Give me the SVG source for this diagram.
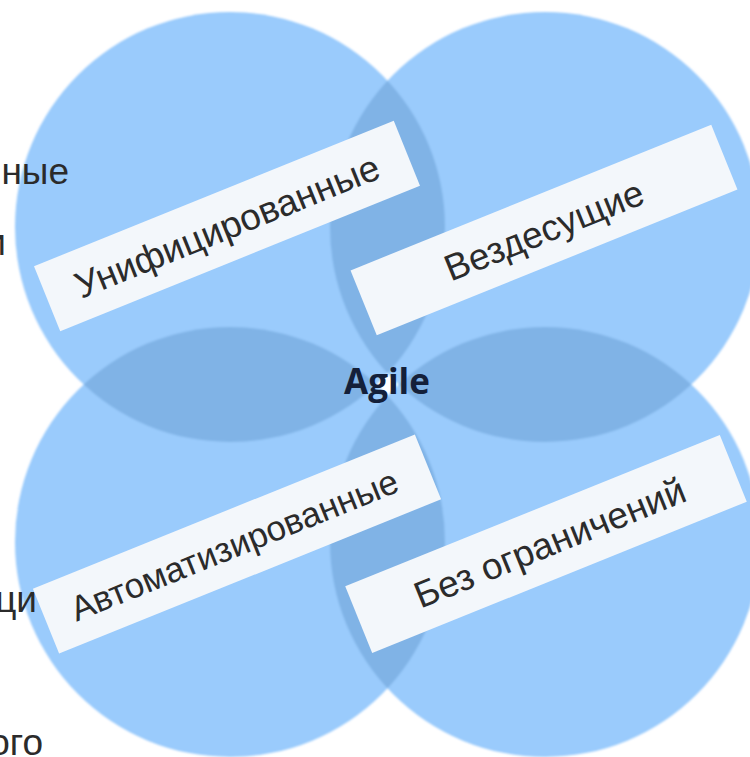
<svg xmlns="http://www.w3.org/2000/svg" width="750" height="757" viewBox="0 0 750 757">
  <defs>
    <style>
      .circ { fill: #9ACBFC; }
      .lens { fill: #80B3E6; }
      .box { fill: #F3F7FB; }
      .lbl { font-family: "Liberation Sans", Arial, sans-serif; font-size: 37px; fill: #2B2B2B; text-anchor: middle; }
      .lbl-s { font-size: 35px; }
      .side { font-family: "Liberation Sans", Arial, sans-serif; font-size: 37px; fill: #2B2B2B; text-anchor: end; }
      .core { font-family: "Open Sans", "Noto Sans", sans-serif; font-weight: bold; font-size: 35px; fill: #14203A; text-anchor: middle; }
    </style>
    <filter id="soft" x="-5%" y="-5%" width="110%" height="110%">
      <feGaussianBlur stdDeviation="1.2"/>
    </filter>
    <clipPath id="cTL"><circle cx="230" cy="227" r="215"/></clipPath>
    <clipPath id="cTR"><circle cx="545" cy="227" r="215"/></clipPath>
    <clipPath id="cBL"><circle cx="230" cy="542" r="215"/></clipPath>
    <clipPath id="cBR"><circle cx="545" cy="542" r="215"/></clipPath>
  </defs>
  <rect width="750" height="757" fill="#FFFFFF"/>

  <g id="circles" filter="url(#soft)">
    <circle class="circ" cx="230" cy="227" r="215"/>
    <circle class="circ" cx="545" cy="227" r="215"/>
    <circle class="circ" cx="230" cy="542" r="215"/>
    <circle class="circ" cx="545" cy="542" r="215"/>
    <circle class="lens" cx="545" cy="227" r="215" clip-path="url(#cTL)"/>
    <circle class="lens" cx="230" cy="542" r="215" clip-path="url(#cTL)"/>
    <circle class="lens" cx="545" cy="542" r="215" clip-path="url(#cTR)"/>
    <circle class="lens" cx="545" cy="542" r="215" clip-path="url(#cBL)"/>
  </g>

  <g id="connectors"></g>

  <g id="center">
    <text class="core" x="387" y="394">Agile</text>
  </g>

  <g id="side-texts">
    <text class="side" x="69" y="184">ные</text>
    <text class="side" x="6" y="255">и</text>
    <text class="side" x="37" y="612">ци</text>
    <text class="side" x="43" y="755">ого</text>
  </g>

  <g id="node-unified" transform="rotate(-22 227 226)">
    <rect class="box" x="33" y="191" width="388" height="70"/>
    <text class="lbl" x="227" y="239">Унифицированные</text>
  </g>

  <g id="node-ubiquitous" transform="rotate(-22 544 230)">
    <rect class="box" x="349.5" y="195" width="389" height="70"/>
    <text class="lbl" x="544" y="243">Вездесущие</text>
  </g>

  <g id="node-automated" transform="rotate(-22 237 544)">
    <rect class="box" x="31" y="509" width="412" height="70"/>
    <text class="lbl lbl-s" x="234" y="556">Автоматизированные</text>
  </g>

  <g id="node-unlimited" transform="rotate(-22 546 544)">
    <rect class="box" x="344" y="508" width="404" height="72"/>
    <text class="lbl" x="550" y="557">Без ограничений</text>
  </g>
</svg>
